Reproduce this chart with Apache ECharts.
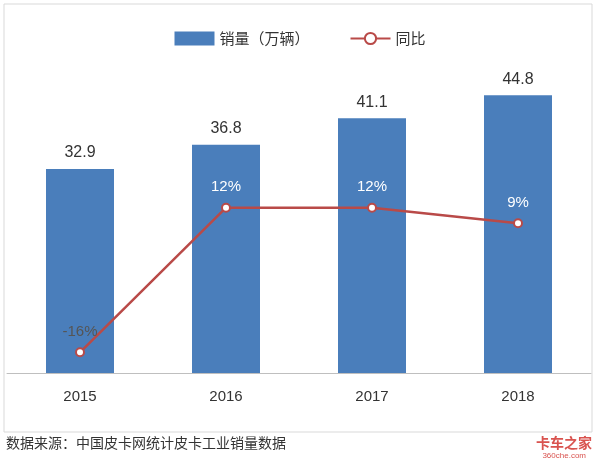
<!DOCTYPE html>
<html><head><meta charset="utf-8">
<script src="https://cdn.jsdelivr.net/npm/echarts@6/dist/echarts.min.js"></script>
<style>body{margin:0;background:#fff}#c{width:600px;height:464px}</style>
</head><body><div id="c"></div>
<script>
const years = ['2015','2016','2017','2018'];
const sales = [32.9, 36.8, 41.1, 44.8];
const yoy = [-16, 12, 12, 9];
const chart = echarts.init(document.getElementById('c'));
chart.setOption({
  animation:false,
  graphic:[
    {type:'rect',shape:{x:4,y:4,width:588,height:428},style:{fill:'none',stroke:'#d9d9d9',lineWidth:1}},
    {type:'text',left:6,top:436,style:{text:'数据来源：中国皮卡网统计皮卡工业销量数据',fill:'#333',font:'14px "Noto Sans CJK SC"'}},
    {type:'text',right:8,top:436,style:{text:'卡车之家',fill:'#d9534f',font:'bold 14px "Noto Sans CJK SC"'}},
    {type:'text',right:14,top:452,style:{text:'360che.com',fill:'#d9534f',font:'8px sans-serif'}}
  ],
  legend:{top:26,left:'center',itemGap:40,itemWidth:40,itemHeight:14,
    textStyle:{fontSize:15,color:'#333',fontFamily:'Noto Sans CJK SC'},
    data:[{name:'销量（万辆）',icon:'rect'},{name:'同比'}]},
  grid:{left:7,right:9,top:63,bottom:91},
  xAxis:{type:'category',data:years,axisTick:{show:false},
    axisLine:{lineStyle:{color:'#bfbfbf'}},
    axisLabel:{fontSize:15,color:'#333',margin:16}},
  yAxis:[{type:'value',min:0,max:50,show:false},{type:'value',min:-20,max:40,show:false}],
  series:[
    {name:'销量（万辆）',type:'bar',data:sales,barWidth:68,itemStyle:{color:'#4a7ebb'},
     label:{show:true,position:'top',fontSize:16,color:'#333',distance:8}},
    {name:'同比',type:'line',yAxisIndex:1,data:yoy.map((v,i)=>({value:v,label:{color:i===0?'#555':'#fff'}})),
     symbol:'circle',symbolSize:8,lineStyle:{color:'#b94a48',width:2.5},
     itemStyle:{color:'#fff',borderColor:'#b94a48',borderWidth:2},
     label:{show:true,position:'top',distance:8,fontSize:15,formatter:p=>p.value+'%'}}
  ]
});
</script></body></html>
